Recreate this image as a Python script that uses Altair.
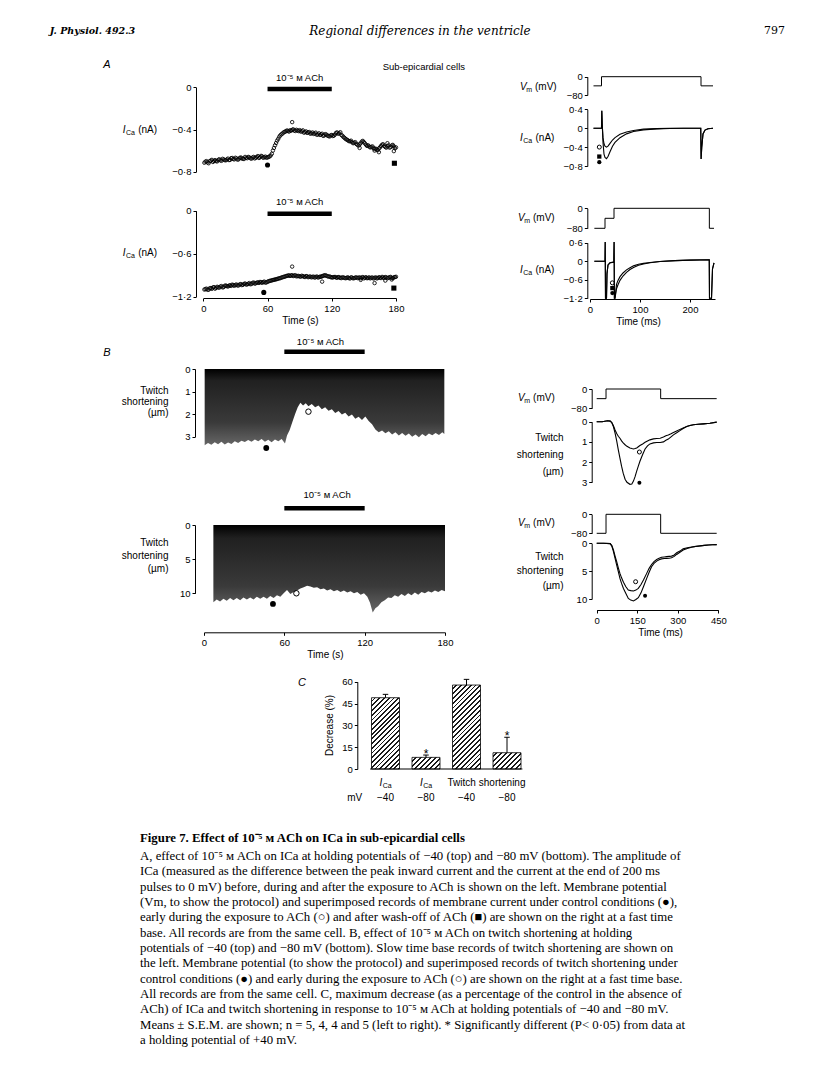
import math
import altair as alt
import pandas as pd

# ============================================================ DATA
# Panel A, left: I_Ca amplitude (nA) against time (s), one pulse every second
TIME_ODD = [1, 3, 5, 7, 9, 11, 13, 15, 17, 19,
            21, 23, 25, 27, 29, 31, 33, 35, 37, 39,
            41, 43, 45, 47, 49, 51, 53, 55, 57, 59,
            61, 63, 65, 67, 69, 71, 73, 75, 77, 79,
            81, 83, 85, 87, 89, 91, 93, 95, 97, 99,
            101, 103, 105, 107, 109, 111, 113, 115, 117, 119,
            121, 123, 125, 127, 129, 131, 133, 135, 137, 139,
            141, 143, 145, 147, 149, 151, 153, 155, 157, 159,
            161, 163, 165, 167, 169, 171, 173, 175, 177, 179]
TIME_EVEN = [2, 4, 6, 8, 10, 12, 14, 16, 18, 20,
             22, 24, 26, 28, 30, 32, 34, 36, 38, 40,
             42, 44, 46, 48, 50, 52, 54, 56, 58, 60,
             62, 64, 66, 68, 70, 72, 74, 76, 78, 80,
             82, 84, 86, 88, 90, 92, 94, 96, 98, 100,
             102, 104, 106, 108, 110, 112, 114, 116, 118, 120,
             122, 124, 126, 128, 130, 132, 134, 136, 138, 140,
             142, 144, 146, 148, 150, 152, 154, 156, 158, 160,
             162, 164, 166, 168, 170, 172, 174, 176, 178, 180]
A_TOP_ICA_ODD = [-0.715, -0.700, -0.720, -0.695, -0.708, -0.690, -0.702, -0.682, -0.697, -0.684,
                 -0.692, -0.676, -0.688, -0.670, -0.683, -0.674, -0.682, -0.665, -0.676, -0.660,
                 -0.672, -0.664, -0.677, -0.660, -0.668, -0.652, -0.662, -0.655, -0.663, -0.668,
                 -0.660, -0.646, -0.600, -0.550, -0.505, -0.468, -0.445, -0.428, -0.418, -0.413,
                 -0.408, -0.404, -0.410, -0.403, -0.415, -0.420, -0.408, -0.425, -0.432, -0.424,
                 -0.436, -0.442, -0.430, -0.446, -0.452, -0.440, -0.456, -0.449, -0.462, -0.455,
                 -0.462, -0.448, -0.428, -0.436, -0.452, -0.472, -0.490, -0.502, -0.512, -0.521,
                 -0.526, -0.538, -0.552, -0.530, -0.508, -0.532, -0.556, -0.562, -0.566, -0.576,
                 -0.582, -0.596, -0.570, -0.544, -0.556, -0.572, -0.550, -0.566, -0.546, -0.578]
A_TOP_ICA_EVEN = [-0.705, -0.712, -0.700, -0.688, -0.698, -0.700, -0.688, -0.692, -0.678, -0.690,
                  -0.684, -0.690, -0.672, -0.680, -0.668, -0.686, -0.670, -0.675, -0.680, -0.668,
                  -0.660, -0.672, -0.666, -0.674, -0.660, -0.670, -0.650, -0.668, -0.657, -0.664,
                  -0.655, -0.630, -0.575, -0.528, -0.488, -0.455, -0.438, -0.422, -0.410, -0.420,
                  -0.412, -0.398, -0.414, -0.410, -0.406, -0.416, -0.430, -0.418, -0.428, -0.440,
                  -0.428, -0.438, -0.450, -0.436, -0.446, -0.460, -0.444, -0.458, -0.466, -0.452,
                  -0.458, -0.432, -0.440, -0.426, -0.460, -0.480, -0.496, -0.510, -0.506, -0.530,
                  -0.520, -0.545, -0.540, -0.515, -0.520, -0.545, -0.550, -0.570, -0.560, -0.585,
                  -0.590, -0.580, -0.556, -0.540, -0.566, -0.560, -0.572, -0.552, -0.560, -0.570]
A_TOP_EXTRA_T = [83, 146, 160, 164, 172, 178]
A_TOP_EXTRA_ICA = [-0.330, -0.575, -0.600, -0.615, -0.530, -0.605]
A_BOT_ICA_ODD = [-1.100, -1.088, -1.102, -1.080, -1.072, -1.088, -1.062, -1.074, -1.052, -1.066,
                 -1.044, -1.058, -1.040, -1.032, -1.048, -1.030, -1.042, -1.024, -1.034, -1.016,
                 -1.028, -1.010, -1.022, -1.002, -1.012, -1.000, -0.994, -1.006, -0.990, -1.000,
                 -0.984, -0.976, -0.968, -0.960, -0.952, -0.944, -0.934, -0.924, -0.914, -0.906,
                 -0.910, -0.900, -0.906, -0.916, -0.910, -0.920, -0.914, -0.926, -0.916, -0.922,
                 -0.930, -0.920, -0.926, -0.932, -0.920, -0.914, -0.904, -0.908, -0.920, -0.926,
                 -0.930, -0.924, -0.936, -0.928, -0.940, -0.934, -0.942, -0.930, -0.946, -0.934,
                 -0.940, -0.930, -0.936, -0.942, -0.926, -0.936, -0.942, -0.930, -0.936, -0.946,
                 -0.930, -0.940, -0.934, -0.924, -0.940, -0.930, -0.936, -0.924, -0.942, -0.926]
A_BOT_ICA_EVEN = [-1.094, -1.104, -1.082, -1.090, -1.066, -1.076, -1.070, -1.058, -1.070, -1.048,
                  -1.052, -1.046, -1.050, -1.038, -1.036, -1.044, -1.028, -1.038, -1.022, -1.030,
                  -1.020, -1.026, -1.008, -1.018, -1.004, -1.008, -0.998, -0.996, -1.004, -0.992,
                  -0.980, -0.972, -0.964, -0.958, -0.948, -0.940, -0.928, -0.920, -0.910, -0.902,
                  -0.904, -0.912, -0.900, -0.912, -0.918, -0.908, -0.920, -0.912, -0.928, -0.918,
                  -0.924, -0.934, -0.918, -0.928, -0.922, -0.908, -0.900, -0.914, -0.918, -0.932,
                  -0.926, -0.932, -0.926, -0.938, -0.928, -0.938, -0.936, -0.940, -0.930, -0.944,
                  -0.934, -0.940, -0.930, -0.934, -0.944, -0.928, -0.938, -0.944, -0.932, -0.938,
                  -0.944, -0.928, -0.940, -0.932, -0.926, -0.942, -0.928, -0.940, -0.930, -0.922]
A_BOT_EXTRA_T = [83, 111, 147, 160, 170, 176]
A_BOT_EXTRA_ICA = [-0.780, -0.990, -0.965, -1.010, -0.975, -0.960]
# filled symbols: control (circle) and wash-off (square)
A_TOP_CTRL = (60, -0.737)
A_TOP_WASH = (178.5, -0.720)
A_BOT_CTRL = (56.5, -1.140)
A_BOT_WASH = (178, -1.080)

# Panel A, right: fast time base (ms)
A1_VM_T = [7, 23, 23, 222, 222, 246]
A1_VM = [-40, -40, 0, 0, -40, -40]
A1_I_T = [7, 23, 23.6, 24.4, 26, 28, 30, 33, 36, 40,
          45, 50, 60, 73, 87, 107, 133, 160, 187, 221.5,
          222.2, 223.5, 226, 230, 236, 246]
A1_I_CTRL = [0, 0, 0.37, 0.10, -0.30, -0.55, -0.62, -0.645, -0.60, -0.50,
             -0.38, -0.30, -0.20, -0.12, -0.07, -0.035, -0.015, -0.005, 0, 0,
             -0.65, -0.40, -0.12, -0.04, -0.01, 0]
A1_I_ACH = [0, 0, 0.37, 0.10, -0.20, -0.33, -0.38, -0.40, -0.38, -0.32,
            -0.25, -0.20, -0.13, -0.08, -0.05, -0.02, -0.01, 0, 0, 0,
            -0.65, -0.40, -0.12, -0.04, -0.01, 0]
A1_SYM_T = 18.6
A1_SYM = [-0.40, -0.60, -0.72]          # ACh (open), wash (square), control (filled)

A2_VM_T = [8.7, 30, 30, 48, 48, 238.7, 238.7, 248]
A2_VM = [-80, -80, -40, -40, 0, 0, -80, -80]
A2_I_T = [8.7, 30, 30.4, 31, 33, 34, 36, 40, 47.6, 48.2,
          48.8, 50, 53, 56, 60, 66, 73, 80, 87, 97,
          107, 120, 140, 170, 200, 238.5, 239, 243, 245, 248]
A2_I_CTRL = [0, 0, 0.62, -1.2, -1.2, -0.40, -0.12, -0.05, -0.03, 0.62,
             -1.2, -1.2, -0.89, -0.76, -0.62, -0.48, -0.36, -0.27, -0.20, -0.13,
             -0.09, -0.05, -0.01, 0.02, 0.035, 0.05, -1.2, -1.2, -0.25, -0.05]
A2_I_ACH = [0, 0, 0.62, -1.2, -1.2, -0.40, -0.12, -0.05, -0.03, 0.62,
            -1.2, -1.2, -0.75, -0.62, -0.50, -0.38, -0.28, -0.21, -0.15, -0.10,
            -0.07, -0.04, -0.01, 0.02, 0.035, 0.05, -1.2, -1.2, -0.25, -0.05]
A2_SYM_T = 44.7
A2_SYM = [-0.70, -0.87, -1.03]

# Panel B, left: lower envelope of twitch shortening (um) against time (s)
B_TOP_T = [0.5, 3, 5.5, 8, 10.5, 13, 15.5, 18, 20.5, 23,
           25.5, 28, 30.5, 33, 35.5, 38, 40.5, 43, 45.5, 48,
           50.5, 53, 55.5, 58, 60.5, 62, 64, 66, 68, 70,
           72, 74, 76, 78, 80.5, 83, 85.5, 88, 90.5, 93,
           95.5, 98, 100.5, 103, 105.5, 108, 110.5, 113, 115.5, 118,
           120.5, 123, 125.5, 128, 130.5, 133, 135.5, 138, 140.5, 143,
           145.5, 148, 150.5, 153, 155.5, 158, 160.5, 163, 165.5, 168,
           170.5, 173, 175.5, 178, 179.5]
B_TOP_SHORT = [3.38, 3.28, 3.36, 3.25, 3.33, 3.22, 3.35, 3.26, 3.32, 3.20,
               3.28, 3.18, 3.24, 3.15, 3.22, 3.12, 3.20, 3.10, 3.22, 3.14,
               3.25, 3.12, 3.20, 3.10, 3.30, 2.95, 2.70, 2.35, 2.00, 1.70,
               1.50, 1.62, 1.52, 1.65, 1.55, 1.70, 1.62, 1.78, 1.70, 1.85,
               1.78, 1.95, 1.86, 2.02, 1.94, 2.10, 2.02, 2.20, 2.12, 2.26,
               2.10, 2.30, 2.45, 2.68, 2.80, 2.72, 2.85, 2.76, 2.90, 2.80,
               2.95, 2.84, 2.96, 2.86, 3.00, 2.90, 3.02, 2.88, 2.98, 2.86,
               2.94, 2.84, 2.92, 2.80, 2.88]
B_BOT_T = [7, 9.5, 12, 14.5, 17, 19.5, 22, 24.5, 27, 29.5,
           32, 34.5, 37, 39.5, 42, 44.5, 47, 49.5, 52, 54.5,
           57, 59.5, 62, 64.5, 67, 69.5, 72, 74.5, 77, 79.5,
           82, 84.5, 87, 89.5, 92, 94.5, 97, 99.5, 102, 104.5,
           107, 109.5, 112, 114.5, 117, 119.5, 122, 124, 126, 128,
           130, 132.5, 135, 137.5, 140, 142.5, 145, 147.5, 150, 152.5,
           155, 157.5, 160, 162.5, 165, 167.5, 170, 172.5, 175, 177.5, 180]
B_BOT_SHORT = [11.3, 10.9, 11.2, 10.8, 11.1, 10.7, 11.0, 10.7, 11.0, 10.6,
               10.9, 10.6, 10.9, 10.5, 10.8, 10.5, 10.8, 10.4, 10.7, 10.3,
               10.5, 10.0, 9.5, 10.1, 9.8, 9.6, 9.3, 9.1, 8.9, 9.0,
               9.2, 9.1, 9.4, 9.3, 9.6, 9.4, 9.7, 9.5, 9.8, 9.6,
               9.9, 9.7, 10.0, 9.8, 10.2, 10.0, 10.5, 11.4, 12.8, 12.2,
               11.9, 11.3, 11.0, 10.6, 10.7, 10.3, 10.5, 10.1, 10.4, 10.0,
               10.3, 9.9, 10.2, 9.8, 10.0, 9.7, 9.9, 9.6, 9.8, 9.5, 9.7]
B_TOP_CTRL = (46.5, 3.50)
B_TOP_ACH = (78, 1.89)
B_BOT_CTRL = (51.5, 11.56)
B_BOT_ACH = (69, 10.0)
ACH_ON_S, ACH_OFF_S = 60, 120

# Panel B, right: fast time base (ms)
B_VM_T = [0, 34.5, 34.5, 236.7, 236.7, 444]
B1_VM = [-40, -40, 0, 0, -40, -40]
B2_VM = [-80, -80, 0, 0, -80, -80]
B1_T = [0, 20, 40, 50, 56, 62, 68, 74, 80, 86,
        92, 98, 105, 112, 123, 130, 136, 142, 148, 154,
        160, 170, 179, 188, 197, 210, 222, 235, 247, 256,
        265, 275, 284, 296, 308, 320, 333, 345, 358, 375,
        395, 419, 444]
B1_CTRL = [0, 0, -0.05, -0.03, 0.05, 0.25, 0.57, 0.95, 1.39, 1.80,
           2.20, 2.55, 2.85, 3.00, 3.10, 3.08, 2.94, 2.72, 2.45, 2.20,
           1.96, 1.62, 1.35, 1.20, 1.10, 1.05, 1.03, 1.03, 1.00, 0.92,
           0.86, 0.75, 0.65, 0.55, 0.44, 0.34, 0.24, 0.19, 0.15, 0.13,
           0.11, 0.08, 0.02]
B1_ACH = [0, 0, -0.05, -0.03, 0.04, 0.20, 0.41, 0.58, 0.72, 0.82,
          0.95, 1.05, 1.14, 1.22, 1.30, 1.33, 1.35, 1.33, 1.30, 1.24,
          1.18, 1.10, 1.02, 0.96, 0.90, 0.85, 0.83, 0.82, 0.76, 0.70,
          0.66, 0.60, 0.54, 0.46, 0.38, 0.31, 0.24, 0.19, 0.15, 0.13,
          0.11, 0.08, 0.02]
B2_T = [0, 25, 50, 56, 62, 68, 74, 80, 86, 92,
        99, 108, 117, 126, 136, 145, 154, 164, 173, 185,
        194, 203, 212, 222, 231, 240, 250, 259, 268, 277,
        287, 296, 308, 320, 335, 351, 366, 382, 398, 413,
        428, 444]
B2_CTRL = [0, 0, 0.05, 0.5, 1.5, 2.7, 3.9, 5.1, 6.3, 7.2,
           8.1, 9.0, 9.9, 10.2, 10.36, 10.1, 9.76, 8.9, 7.8, 6.3,
           5.2, 4.2, 3.6, 3.2, 2.95, 2.8, 2.72, 2.7, 2.68, 2.6,
           2.35, 2.0, 1.6, 1.2, 0.92, 0.72, 0.58, 0.48, 0.38, 0.30,
           0.26, 0.24]
B2_ACH = [0, 0, 0.05, 0.4, 1.2, 2.3, 3.3, 4.4, 5.4, 6.2,
          7.0, 7.8, 8.4, 8.5, 8.56, 8.4, 8.1, 7.4, 6.6, 5.4,
          4.5, 3.8, 3.3, 2.9, 2.7, 2.5, 2.45, 2.4, 2.35, 2.3,
          2.1, 1.7, 1.4, 1.0, 0.8, 0.66, 0.55, 0.46, 0.37, 0.30,
          0.26, 0.24]
B1_SYM = [(158, 1.50, 'ach'), (158, 3.02, 'ctrl')]
B2_SYM = [(144, 6.90, 'ach'), (179, 9.40, 'ctrl')]

# Panel C: maximum decrease (%)
C_POS = [1, 2, 3, 4]
C_MEAN = [49.0, 8.0, 57.7, 11.2]
C_SEM = [2.3, 1.6, 3.9, 10.6]
C_SIGNIF = [False, True, False, True]
C_ROW1 = ['ICa', 'ICa', 'Twitch', 'shortening']
C_ROW2 = ['mV', '\u221240', '\u221280', '\u221240', '\u221280']

ACH_LABEL = '10\u207b\u2075 \u1d0d ACh'
HEADER = ['J. Physiol. 492.3', 'Regional differences in the ventricle', '797']
CAPTION_TITLE = 'Figure 7. Effect of 10\u207b\u2075 \u1d0d ACh on ICa in sub-epicardial cells'
CAPTION = [
    'A, effect of 10\u207b\u2075 \u1d0d ACh on ICa at holding potentials of \u221240 (top) and \u221280 mV (bottom). The amplitude of',
    'ICa (measured as the difference between the peak inward current and the current at the end of 200 ms',
    'pulses to 0 mV) before, during and after the exposure to ACh is shown on the left. Membrane potential',
    '(Vm, to show the protocol) and superimposed records of membrane current under control conditions (\u25cf),',
    'early during the exposure to ACh (\u25cb) and after wash-off of ACh (\u25a0) are shown on the right at a fast time',
    'base. All records are from the same cell. B, effect of 10\u207b\u2075 \u1d0d ACh on twitch shortening at holding',
    'potentials of \u221240 (top) and \u221280 mV (bottom). Slow time base records of twitch shortening are shown on',
    'the left. Membrane potential (to show the protocol) and superimposed records of twitch shortening under',
    'control conditions (\u25cf) and early during the exposure to ACh (\u25cb) are shown on the right at a fast time base.',
    'All records are from the same cell. C, maximum decrease (as a percentage of the control in the absence of',
    'ACh) of ICa and twitch shortening in response to 10\u207b\u2075 \u1d0d ACh at holding potentials of \u221240 and \u221280 mV.',
    'Means \u00b1 S.E.M. are shown; n = 5, 4, 4 and 5 (left to right). * Significantly different (P< 0\u00b705) from data at',
    'a holding potential of +40 mV.',
]

# ============================================================ LAYOUT / STYLE
W, H = 800, 1055
FONT = 'Liberation Sans'
SERIF = 'Liberation Serif'
DOT = "datum.value == 0 ? '0' : replace(format(datum.value, '.1f'), '.', '\u00b7')"


def P(v):
    return v - 8


def lin(domain, a, b):
    return alt.Scale(domain=domain, range=[P(a), P(b)], nice=False, zero=False)


def df(**cols):
    return pd.DataFrame(cols)


AXIS_STYLE = dict(tickSize=3, labelPadding=2, labelOverlap=False, labelFlush=False,
                  labelFont=FONT, labelFontSize=9.5, labelColor='black',
                  domainColor='black', tickColor='black', domainWidth=1, tickWidth=1,
                  grid=False)


def yaxis(at_x, values, dot=False, **kw):
    d = dict(orient='left', offset=-P(at_x), values=values, title='', **AXIS_STYLE)
    if dot:
        d['labelExpr'] = DOT
    d.update(kw)
    return alt.Axis(**d)


def xaxis(at_y, values, title, title_x):
    return alt.Axis(orient='bottom', offset=P(at_y) - H, values=values, title=title,
                    titleX=P(title_x), titleFont=FONT, titleFontSize=10,
                    titleFontWeight='normal', titleColor='black', titlePadding=3,
                    **AXIS_STYLE)


def twitch_title(right_x, axis_x, top_y, lh):
    return dict(title=['Twitch', 'shortening', '(\u00b5m)'], titleAngle=0, titleAlign='right',
                titleBaseline='top', titleX=right_x - axis_x, titleY=P(top_y),
                titleLineHeight=lh, titleFont=FONT, titleFontSize=10,
                titleFontWeight='normal', titleColor='black')


def sub_label(x, y, t, v, main, sub, rest, sub_dx, rest_dx, size=10, dx0=0):
    d = df(t=[t], v=[v])
    common = dict(baseline='middle', font=FONT, color='black', align='left')
    out = [alt.Chart(d).mark_text(text=main, fontSize=size, fontStyle='italic', dx=dx0, **common).encode(x=x, y=y),
           alt.Chart(d).mark_text(text=sub, fontSize=size * 0.7, dx=dx0 + sub_dx, dy=size * 0.3, **common).encode(x=x, y=y)]
    if rest:
        out.append(alt.Chart(d).mark_text(text=rest, fontSize=size, dx=dx0 + rest_dx, **common).encode(x=x, y=y))
    return out


def text(x, y, t, v, s, size=9.5, align='center', **kw):
    font = kw.pop('font', FONT)
    return alt.Chart(df(t=[t], v=[v], s=[s])).mark_text(
        font=font, fontSize=size, align=align, baseline='middle', color='black', **kw
    ).encode(x=x, y=y, text='s:N')


def open_pts(x, y, ts, vs, size=12):
    return alt.Chart(df(t=ts, v=vs)).mark_point(shape='circle', filled=False, size=size,
                                                  strokeWidth=0.85, color='black', opacity=1).encode(x=x, y=y)


def sym(x, y, t, v, kind, size=22):
    if kind == 'ach':
        m = dict(shape='circle', filled=False, strokeWidth=1)
    elif kind == 'wash':
        m = dict(shape='square', filled=True)
    else:
        m = dict(shape='circle', filled=True)
    return alt.Chart(df(t=[t], v=[v])).mark_point(size=size, color='black', opacity=1, **m).encode(x=x, y=y)


def trace(x, y, ts, vs, width=1.1):
    return alt.Chart(df(t=ts, v=vs, i=list(range(len(ts))))).mark_line(
        color='black', strokeWidth=width).encode(x=x, y=y, order='i:Q')


def ach_bar(x, y, v):
    return alt.Chart(df(t=[ACH_ON_S], t2=[ACH_OFF_S], v=[v])).mark_rule(
        strokeWidth=4.5, strokeCap='butt', color='black').encode(x=x, x2='t2', y=y)


# ============================================================ PANEL A (left)
xA1 = alt.X('t:Q', scale=lin([0, 180], 203.3, 396), axis=None)
yA1 = alt.Y('v:Q', scale=lin([-0.8, 0], 171.7, 87.3), axis=yaxis(196, [0, -0.4, -0.8], dot=True))
A1 = alt.layer(
    open_pts(xA1, yA1, TIME_ODD, A_TOP_ICA_ODD),
    open_pts(xA1, yA1, TIME_EVEN, A_TOP_ICA_EVEN),
    open_pts(xA1, yA1, A_TOP_EXTRA_T, A_TOP_EXTRA_ICA),
    sym(xA1, yA1, *A_TOP_CTRL, 'ctrl', 26),
    sym(xA1, yA1, *A_TOP_WASH, 'wash', 26),
    ach_bar(xA1, yA1, -0.015),
    text(xA1, yA1, 90, 0.088, ACH_LABEL),
    text(xA1, yA1, -90, 0.21, 'A', size=11, fontStyle='italic'),
    text(xA1, yA1, 206, 0.19, 'Sub-epicardial cells'),
    *sub_label(xA1, yA1, -75.3, -0.40, 'I', 'Ca', '(nA)', 3.2, 15.5),
)

xA2 = alt.X('t:Q', scale=lin([0, 180], 203.3, 396), axis=xaxis(298, [0, 60, 120, 180], 'Time (s)', 300))
yA2 = alt.Y('v:Q', scale=lin([-1.2, 0], 296.7, 210.7), axis=yaxis(196, [0, -0.6, -1.2], dot=True))
A2 = alt.layer(
    open_pts(xA2, yA2, TIME_ODD, A_BOT_ICA_ODD),
    open_pts(xA2, yA2, TIME_EVEN, A_BOT_ICA_EVEN),
    open_pts(xA2, yA2, A_BOT_EXTRA_T, A_BOT_EXTRA_ICA),
    sym(xA2, yA2, *A_BOT_CTRL, 'ctrl', 26),
    sym(xA2, yA2, *A_BOT_WASH, 'wash', 26),
    ach_bar(xA2, yA2, -0.042),
    text(xA2, yA2, 90, 0.126, ACH_LABEL),
    *sub_label(xA2, yA2, -75.3, -0.594, 'I', 'Ca', '(nA)', 3.2, 15.5),
)

# ============================================================ PANEL A (right)
xAR = alt.X('t:Q', scale=lin([0, 250], 590, 715), axis=None)
yAR1v = alt.Y('v:Q', scale=lin([-80, 0], 95, 76.7), axis=yaxis(587.3, [0, -80]))
AR1v = alt.layer(
    trace(xAR, yAR1v, A1_VM_T, A1_VM, 1),
    *sub_label(xAR, yAR1v, -140, -43.7, 'V', 'm', '(mV)', 6.3, 15),
)
yAR1i = alt.Y('v:Q', scale=lin([-0.8, 0.4], 166, 109.3), axis=yaxis(587.3, [0.4, 0, -0.4, -0.8], dot=True))
AR1i = alt.layer(
    trace(xAR, yAR1i, A1_I_T, A1_I_CTRL),
    trace(xAR, yAR1i, A1_I_T, A1_I_ACH),
    sym(xAR, yAR1i, A1_SYM_T, A1_SYM[0], 'ach', 16),
    sym(xAR, yAR1i, A1_SYM_T, A1_SYM[1], 'wash', 18),
    sym(xAR, yAR1i, A1_SYM_T, A1_SYM[2], 'ctrl', 18),
    *sub_label(xAR, yAR1i, -140, -0.203, 'I', 'Ca', '(nA)', 3.2, 15.5),
)
yAR2v = alt.Y('v:Q', scale=lin([-80, 0], 228.3, 208.3), axis=yaxis(587.3, [0, -80]))
AR2v = alt.layer(
    trace(xAR, yAR2v, A2_VM_T, A2_VM, 1),
    *sub_label(xAR, yAR2v, -144, -40, 'V', 'm', '(mV)', 6.3, 15),
)
xAR2 = alt.X('t:Q', scale=lin([0, 250], 590, 715), axis=xaxis(299, [0, 100, 200], 'Time (ms)', 638))
yAR2i = alt.Y('v:Q', scale=lin([-1.2, 0.6], 298.3, 242.7), axis=yaxis(587.3, [0.6, 0, -0.6, -1.2], dot=True))
AR2i = alt.layer(
    trace(xAR2, yAR2i, A2_I_T, A2_I_CTRL),
    trace(xAR2, yAR2i, A2_I_T, A2_I_ACH),
    sym(xAR2, yAR2i, A2_SYM_T, A2_SYM[0], 'ach', 16),
    sym(xAR2, yAR2i, A2_SYM_T, A2_SYM[1], 'wash', 18),
    sym(xAR2, yAR2i, A2_SYM_T, A2_SYM[2], 'ctrl', 18),
    *sub_label(xAR2, yAR2i, -140, -0.28, 'I', 'Ca', '(nA)', 3.2, 15.5),
)

# ============================================================ PANEL B (left)
GRAD = alt.Gradient(gradient='linear', x1=0, x2=0, y1=0, y2=1, stops=[
    alt.GradientStop(color='#000000', offset=0),
    alt.GradientStop(color='#202020', offset=0.15),
    alt.GradientStop(color='#3a3a3a', offset=0.7),
    alt.GradientStop(color='#666666', offset=1)])


def record(x, y, ts, vs):
    return alt.Chart(df(t=ts, v=vs)).mark_area(color=GRAD).encode(x=x, y=y, y2=alt.datum(0))


xB1 = alt.X('t:Q', scale=lin([0, 180], 204, 445), axis=None)
yB1 = alt.Y('v:Q', scale=lin([0, 3], 369, 436.7),
            axis=yaxis(195, [0, 1, 2, 3], **twitch_title(168, 195, 385.5, 11)))
B1 = alt.layer(
    record(xB1, yB1, B_TOP_T, B_TOP_SHORT),
    sym(xB1, yB1, *B_TOP_CTRL, 'ctrl', 34),
    sym(xB1, yB1, *B_TOP_ACH, 'ach', 30),
    ach_bar(xB1, yB1, -0.76),
    text(xB1, yB1, 87, -1.21, ACH_LABEL),
    text(xB1, yB1, -72.5, -0.70, 'B', size=11, fontStyle='italic'),
)
xB2 = alt.X('t:Q', scale=lin([0, 180], 204, 445), axis=xaxis(632.3, [0, 60, 120, 180], 'Time (s)', 325))
yB2 = alt.Y('v:Q', scale=lin([0, 10], 525, 593.3),
            axis=yaxis(195, [0, 5, 10], **twitch_title(168, 195, 537.2, 13.3)))
B2 = alt.layer(
    record(xB2, yB2, B_BOT_T, B_BOT_SHORT),
    sym(xB2, yB2, *B_BOT_CTRL, 'ctrl', 34),
    sym(xB2, yB2, *B_BOT_ACH, 'ach', 30),
    ach_bar(xB2, yB2, -2.44),
    text(xB2, yB2, 92, -4.39, ACH_LABEL),
)

# ============================================================ PANEL B (right)
xBR = alt.X('t:Q', scale=lin([0, 450], 596.7, 718.3), axis=None)
yBR1v = alt.Y('v:Q', scale=lin([-80, 0], 408.3, 389), axis=yaxis(591.7, [0, -80]))
BR1v = alt.layer(
    trace(xBR, yBR1v, B_VM_T, B1_VM, 1),
    *sub_label(xBR, yBR1v, -291, -37, 'V', 'm', '(mV)', 6.3, 15),
)
yBR1s = alt.Y('v:Q', scale=lin([0, 3], 421.7, 482.3),
              axis=yaxis(591.7, [0, 1, 2, 3], **twitch_title(563, 591.7, 432.2, 17)))
BR1s = alt.layer(
    trace(xBR, yBR1s, B1_T, B1_CTRL),
    trace(xBR, yBR1s, B1_T, B1_ACH),
    *[sym(xBR, yBR1s, t, v, k, 16) for t, v, k in B1_SYM],
)
yBR2v = alt.Y('v:Q', scale=lin([-80, 0], 533.3, 514.3), axis=yaxis(591.7, [0, -80]))
BR2v = alt.layer(
    trace(xBR, yBR2v, B_VM_T, B2_VM, 1),
    *sub_label(xBR, yBR2v, -291, -37.9, 'V', 'm', '(mV)', 6.3, 15),
)
xBR2 = alt.X('t:Q', scale=lin([0, 450], 596.7, 718.3), axis=xaxis(610, [0, 150, 300, 450], 'Time (ms)', 660))
yBR2s = alt.Y('v:Q', scale=lin([0, 10], 543.3, 599),
              axis=yaxis(591.7, [0, 5, 10], **twitch_title(563, 591.7, 551.2, 14.6)))
BR2s = alt.layer(
    trace(xBR2, yBR2s, B2_T, B2_CTRL),
    trace(xBR2, yBR2s, B2_T, B2_ACH),
    *[sym(xBR2, yBR2s, t, v, k, 16) for t, v, k in B2_SYM],
)

# ============================================================ PANEL C
C_BAR_W = 28
C_Y0, C_Y60 = 769, 681.7
xC = alt.X('pos:Q', scale=lin([0, 5], 340, 552.5), axis=None)
yC = alt.Y('val:Q', scale=lin([0, 60], C_Y0, C_Y60),
           axis=yaxis(357.3, [0, 15, 30, 45, 60], title='Decrease (%)', titleAngle=270,
                      titleX=329.3 - 357.3, titleY=P(725), titleAlign='center',
                      titleBaseline='middle', titleFont=FONT, titleFontSize=10,
                      titleFontWeight='normal', titleColor='black'))
c_df = df(pos=C_POS, val=C_MEAN, top=[m + s for m, s in zip(C_MEAN, C_SEM)])
c_cap = df(pos=C_POS, val=[m + s for m, s in zip(C_MEAN, C_SEM)])
c_star = df(pos=[p for p, s in zip(C_POS, C_SIGNIF) if s],
            val=[m + e + 3.0 for m, e, s in zip(C_MEAN, C_SEM, C_SIGNIF) if s])


def hatch(value, period=3.4, ink=0.38):
    """'////' hatching as a striped gradient sized to a bar's box."""
    w = C_BAR_W
    h = max(value * (C_Y0 - C_Y60) / 60.0, 1.0)
    k = (w + h) / (w * w + h * h)
    n = max(int(round((w + h) / math.sqrt(2) / period)), 1)
    stops = []
    for i in range(n):
        o0, o1, o2 = i / n, (i + 1 - ink) / n, (i + 1) / n
        stops += [alt.GradientStop(color='#ffffff', offset=o0), alt.GradientStop(color='#ffffff', offset=o1),
                  alt.GradientStop(color='#1a1a1a', offset=o1), alt.GradientStop(color='#1a1a1a', offset=o2)]
    return alt.Gradient(gradient='linear', x1=0, y1=0, x2=k * w, y2=k * h, stops=stops)


def ctext(p, v, s, size=10, **kw):
    return alt.Chart(df(pos=[p], val=[v], s=[s])).mark_text(
        font=FONT, fontSize=size, align='center', baseline='middle', color='black', **kw
    ).encode(x=xC, y=yC, text='s:N')


def csub(p, v):
    d = df(pos=[p], val=[v])
    common = dict(baseline='middle', font=FONT, color='black', align='left')
    return [alt.Chart(d).mark_text(text='I', fontSize=10, fontStyle='italic', dx=-6, **common).encode(x=xC, y=yC),
            alt.Chart(d).mark_text(text='Ca', fontSize=7, dx=-2.8, dy=3, **common).encode(x=xC, y=yC)]


bars = [alt.Chart(df(pos=[p], val=[m])).mark_bar(size=C_BAR_W, fill=hatch(m), stroke='black', strokeWidth=0.8)
        .encode(x=xC, y=yC, y2=alt.datum(0)) for p, m in zip(C_POS, C_MEAN)]

C = alt.layer(
    alt.Chart(c_df).mark_rule(color='black', strokeWidth=1).encode(x=xC, y=yC, y2='top'),
    alt.Chart(c_cap).mark_point(shape='M-1,0L1,0', filled=False, size=30, strokeWidth=1,
                                color='black', opacity=1).encode(x=xC, y=yC),
    *bars,
    alt.Chart(df(pos=[0.62], p2=[4.38], val=[0])).mark_rule(color='black', strokeWidth=1).encode(x=xC, x2='p2', y=yC),
    alt.Chart(c_star).mark_text(text='*', font=FONT, fontSize=12, baseline='middle', dy=3, color='black').encode(x=xC, y=yC),
    ctext(-1.06, 59.3, 'C', size=11, fontStyle='italic'),
    *csub(1, -9.8), *csub(2, -9.8),
    ctext(2.88, -9.8, C_ROW1[2]), ctext(3.88, -9.8, C_ROW1[3]),
    ctext(0.24, -20.1, C_ROW2[0]), ctext(1, -20.1, C_ROW2[1]), ctext(2, -20.1, C_ROW2[2]),
    ctext(3, -20.1, C_ROW2[3]), ctext(4, -20.1, C_ROW2[4]),
)

# ============================================================ PAGE TEXT
xT = alt.X('x:Q', scale=lin([0, 1], 140, 700), axis=None)
yT = alt.Y('row:Q', scale=lin([0, 12], 856, 1040), axis=None)


def ptext(x, row, s, align='left', size=12.8, font=SERIF, **kw):
    return alt.Chart(df(x=[x] * len(s), row=row, s=s)).mark_text(
        font=font, fontSize=size, align=align, baseline='middle', color='black', **kw
    ).encode(x=xT, y=yT, text='s:N')


TXT = alt.layer(
    ptext(-0.161, [-53.8], [HEADER[0]], size=9.5, font='DejaVu Serif', fontWeight='bold', fontStyle='italic'),
    ptext(0.5, [-53.8], [HEADER[1]], align='center', size=12, font='DejaVu Serif', fontStyle='italic'),
    ptext(1.152, [-53.8], [HEADER[2]], align='right', size=11, font='DejaVu Serif'),
    ptext(0, [-1.17], [CAPTION_TITLE], size=12.8, fontWeight='bold'),
    ptext(0, list(range(len(CAPTION))), CAPTION),
)

chart = alt.layer(
    A1, A2, AR1v, AR1i, AR2v, AR2i, B1, B2, BR1v, BR1s, BR2v, BR2s, C, TXT
).resolve_scale(x='independent', y='independent').properties(
    width=W, height=H, padding=0, background='white',
    autosize=alt.AutoSizeParams(type='none')
).configure_view(strokeWidth=0)

chart.save('out.html', embed_options={'renderer': 'svg', 'actions': False})
